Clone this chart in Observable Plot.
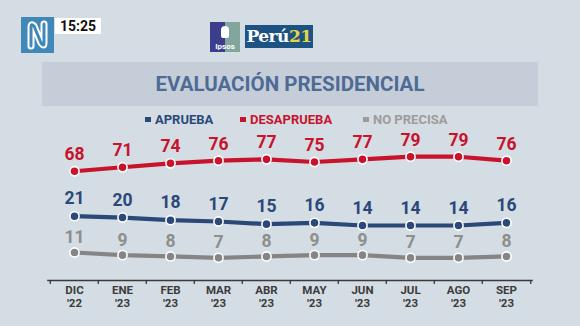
<!DOCTYPE html>
<html><head><meta charset="utf-8">
<script src="https://cdn.jsdelivr.net/npm/d3@7"></script>
<script src="https://cdn.jsdelivr.net/npm/@observablehq/plot@0.6"></script>
<style>
body{margin:0;background:#d4dde3;}
#root{position:relative;width:580px;height:326px;background:#d4dde3;overflow:hidden;font-family:Roboto,"Open Sans",sans-serif;}
.abs{position:absolute;}
#logoN{left:21px;top:17px;width:33px;height:36px;background:#3f88b8;}
#time{left:55px;top:18px;width:46px;height:16px;background:#fff;font-weight:700;font-size:14px;line-height:16px;text-align:center;color:#111;}
#ipsos{left:210px;top:22px;width:30px;height:30px;overflow:hidden;}
#ipsos .l{position:absolute;left:0;top:0;width:15px;height:30px;background:#3d3d8e;}
#ipsos .r{position:absolute;left:15px;top:0;width:15px;height:30px;background:#82a69c;}
#ipsos .t{position:absolute;left:0;bottom:1px;width:30px;text-align:center;color:#fff;font-size:8px;font-weight:700;}
#ipsos .h{position:absolute;left:11px;top:4px;width:8px;height:12px;background:#fff;border-radius:4px 4px 2px 2px;}
#peru{left:245px;top:25px;width:68px;height:23px;background:#1d5382;color:#fff;font-family:"DejaVu Serif",serif;font-weight:700;font-size:17px;line-height:23px;text-align:center;letter-spacing:-0.5px;}
#peru span{color:#e5d544;}
#banner{left:42px;top:62px;width:496px;height:44px;background:#c5ced8;text-align:center;font-weight:700;font-size:20.5px;line-height:44px;color:#4e6b96;}
.leg{top:112px;font-weight:700;font-size:13px;line-height:16px;}
.leg i{display:inline-block;width:6px;height:5px;margin-right:4px;vertical-align:2px;}
#chart{position:absolute;left:0;top:0;}
</style></head><body>
<div id="root">
  <div id="logoN" class="abs"><svg width="33" height="36" viewBox="0 0 33 36"><path d="M10 29 L10 10 Q10 6 13 9 L20 26 Q23 30 23 26 L23 7" fill="none" stroke="#fff" stroke-width="7" stroke-linecap="round" stroke-linejoin="round"/><path d="M10 29 L10 10 Q10 6 13 9 L20 26 Q23 30 23 26 L23 7" fill="none" stroke="#3f88b8" stroke-width="3" stroke-linecap="round" stroke-linejoin="round"/></svg></div>
  <div id="time" class="abs">15:25</div>
  <div id="ipsos" class="abs"><div class="l"></div><div class="r"></div><div class="h"></div><div class="t">Ipsos</div></div>
  <div id="peru" class="abs">Perú<span>21</span></div>
  <div id="banner" class="abs">EVALUACIÓN PRESIDENCIAL</div>
  <div id="legend"></div>
  <div id="chart"></div>
</div>
<script>
const months = ["DIC","ENE","FEB","MAR","ABR","MAY","JUN","JUL","AGO","SEP"];
const years = ["'22","'23","'23","'23","'23","'23","'23","'23","'23","'23"];
const seriesNames = ["APRUEBA","DESAPRUEBA","NO PRECISA"];
const seriesColors = ["#2b4879","#c8132d","#858585"];
const labelColors = ["#2b4879","#c8132d","#8e8e8e"];
const legendColors = ["#2b4879","#c8132d","#9c9c9c"];
const aprueba = [21,20,18,17,15,16,14,14,14,16];
const desaprueba = [68,71,74,76,77,75,77,79,79,76];
const noPrecisa = [11,9,8,7,8,9,9,7,7,8];
const seriesValues = [aprueba, desaprueba, noPrecisa];

// legend
const legendLefts = [145, 240, 363];
const legend = document.getElementById("legend");
seriesNames.forEach((s, i) => {
  const d = document.createElement("div");
  d.className = "abs leg";
  d.style.left = legendLefts[i] + "px";
  d.style.color = legendColors[i];
  d.innerHTML = `<i style="background:${legendColors[i]}"></i>${s}`;
  legend.appendChild(d);
});

const rows = [];
seriesNames.forEach((s, k) => months.forEach((m, i) => rows.push({serie: s, month: m, value: seriesValues[k][i]})));

const W = 580, H = 326, ML = 47.5, MR = 48.5, MB = 46, MT = 120;
const bw = (W - ML - MR) / months.length;
const labelDy = [-17.5, -16.5, -15];

const marks = [
  Plot.frame({anchor: "bottom", stroke: "#3a3a3a", strokeWidth: 1.6}),
  Plot.tickX(months, {x: d => d, dx: -bw / 2, dy: 4, insetTop: H - MT - MB - 4, stroke: "#3a3a3a", strokeWidth: 1.3}),
  Plot.tickX(months.slice(-1), {x: d => d, dx: bw / 2, dy: 4, insetTop: H - MT - MB - 4, stroke: "#3a3a3a", strokeWidth: 1.3}),
  Plot.text(months, {x: d => d, text: (d, i) => d + "\n" + years[i], frameAnchor: "bottom", lineAnchor: "top", dy: 4.4, lineHeight: 1.1, fontSize: 11.5, fontWeight: 700, fill: "#3b3b3b"})
];
seriesNames.forEach((s, k) => {
  const data = rows.filter(r => r.serie === s);
  marks.push(Plot.line(data, {x: "month", y: "value", stroke: seriesColors[k], strokeWidth: 4.2}));
  marks.push(Plot.dot(data, {x: "month", y: "value", r: 4.6, fill: seriesColors[k], stroke: "#fff", strokeWidth: 1.6}));
  marks.push(Plot.text(data, {x: "month", y: "value", text: d => String(d.value), dy: labelDy[k], fontSize: 17.5, fontWeight: 700, fill: labelColors[k]}));
});

const chart = Plot.plot({
  width: W, height: H,
  marginLeft: ML, marginRight: MR, marginTop: MT, marginBottom: MB,
  style: {background: "transparent", fontFamily: "Roboto, sans-serif", overflow: "visible"},
  x: {type: "band", domain: months, padding: 0, axis: null},
  y: {type: "linear", domain: [0, 12, 13, 22, 60, 100], range: [266.5, 250.7, 226.3, 214.4, 181.3, 128.5], axis: null},
  marks
});
document.getElementById("chart").appendChild(chart);
</script>
</body></html>
